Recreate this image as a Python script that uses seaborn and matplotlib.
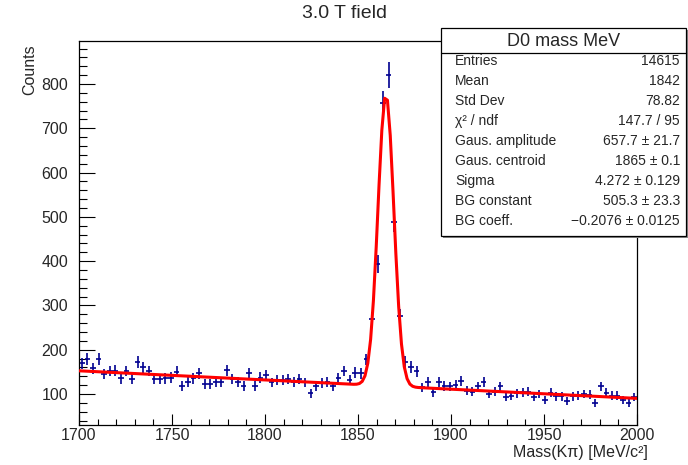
import numpy as np
import pandas as pd
import seaborn as sns
import matplotlib.pyplot as plt
from matplotlib.patches import Rectangle
from matplotlib.ticker import MultipleLocator

# Histograma: 100 bins de 3 MeV entre 1700 e 2000
X_MIN, X_MAX, N_BINS = 1700, 2000, 100

counts = [
    169, 179, 158, 179, 145, 152, 153, 135, 152, 134,
    172, 160, 152, 134, 134, 135, 137, 150, 118, 128,
    135, 147, 122, 122, 127, 126, 154, 134, 128, 118,
    147, 118, 137, 143, 126, 132, 132, 134, 128, 133,
    126, 102, 117, 124, 128, 117, 135, 152, 132, 148,
    147, 178, 269, 394, 756, 820, 489, 276, 172, 161,
    151, 115, 128, 104, 128, 118, 117, 120, 130, 107,
    105, 117, 127, 100, 105, 117, 93, 96, 102, 104,
    105, 93, 100, 87, 103, 95, 95, 84, 95, 96,
    100, 98, 79, 117, 103, 96, 96, 87, 79, 93,
]

GAUS_AMP = 657.7
GAUS_MEAN = 1865.0
GAUS_SIGMA = 4.272
BG_CONST = 505.3
BG_COEFF = -0.2076

stat_title = "D0 mass MeV"
stat_labels = ["Entries", "Mean", "Std Dev", "χ² / ndf", "Gaus. amplitude",
               "Gaus. centroid", "Sigma", "BG constant", "BG coeff."]
stat_values = ["14615", "1842", "78.82", "147.7 / 95", "657.7 ± 21.7",
               "1865 ± 0.1", "4.272 ± 0.129", "505.3 ± 23.3",
               "\u22120.2076 ± 0.0125"]

W, H = 688, 465

def fx(px):
    return px / W

def fy(py):
    return 1 - py / H

sns.set_style("ticks")
plt.rcParams["font.family"] = ["Liberation Sans", "DejaVu Sans"]

fig = plt.figure(figsize=(W / 100, H / 100), dpi=100)
ax = fig.add_axes([fx(79), fy(425), fx(637) - fx(79), fy(41) - fy(425)])

bw = (X_MAX - X_MIN) / N_BINS
centers = X_MIN + bw * (np.arange(N_BINS) + 0.5)
hist = pd.DataFrame({"mass": centers, "counts": counts})
hist["err"] = np.sqrt(hist["counts"])

ax.errorbar(hist["mass"], hist["counts"], xerr=bw / 2, yerr=hist["err"],
            fmt="none", ecolor="#000090", elinewidth=1.2, capsize=0, zorder=2)

xf = np.linspace(X_MIN, X_MAX, 200)
fit = pd.DataFrame({
    "mass": xf,
    "y": GAUS_AMP * np.exp(-0.5 * ((xf - GAUS_MEAN) / GAUS_SIGMA) ** 2)
         + BG_CONST + BG_COEFF * xf,
})
sns.lineplot(data=fit, x="mass", y="y", ax=ax, color="red", lw=2.2,
             zorder=3, legend=False)

ax.set_xlim(X_MIN, X_MAX)
ax.set_ylim(30, 897)
ax.xaxis.set_major_locator(MultipleLocator(50))
ax.xaxis.set_minor_locator(MultipleLocator(10))
ax.yaxis.set_major_locator(MultipleLocator(100))
ax.yaxis.set_minor_locator(MultipleLocator(20))
ax.tick_params(which="both", direction="in", top=False, right=False,
               width=0.8, labelsize=11.5, color="black")
ax.tick_params(axis="x", which="major", length=8, pad=2)
ax.tick_params(axis="x", which="minor", length=4)
ax.tick_params(axis="y", which="major", length=11.5, pad=8)
ax.tick_params(axis="y", which="minor", length=5.8)
for s in ax.spines.values():
    s.set_visible(True)
    s.set_linewidth(0.9)
    s.set_color("black")

ax.set_xlabel("Mass(Kπ) [MeV/c²]", fontsize=11.5, loc="right", va="center")
ax.set_ylabel("Counts", fontsize=11.5, loc="top")
ax.xaxis.set_label_coords((648 - 79) / 558, -27 / 384)
ax.yaxis.set_label_coords(-42 / 558, 1 - 3 / 384)

fig.text(0.5, fy(13), "3.0 T field", ha="center", va="center", fontsize=14)

# Caixa de estatística (estilo ROOT)
bx0, bx1, by0, by1 = 441, 686, 28, 236
fig.add_artist(Rectangle((fx(bx0 + 2), fy(by1 + 2)), fx(bx1) - fx(bx0),
                         fy(by0) - fy(by1), transform=fig.transFigure,
                         facecolor="#888888", edgecolor="none", zorder=4))
fig.add_artist(Rectangle((fx(bx0), fy(by1)), fx(bx1) - fx(bx0),
                         fy(by0) - fy(by1), transform=fig.transFigure,
                         facecolor="white", edgecolor="black", lw=0.9, zorder=5))
fig.add_artist(plt.Line2D([fx(bx0), fx(bx1)], [fy(53), fy(53)],
                          transform=fig.transFigure, color="black", lw=0.9,
                          zorder=6))
fig.text(fx(564), fy(41), stat_title, ha="center", va="center",
         fontsize=13, zorder=7)
for i, (lab, val) in enumerate(zip(stat_labels, stat_values)):
    yy = fy(60.7 + 20 * i)
    fig.text(fx(455), yy, lab, ha="left", va="center", fontsize=10, zorder=7)
    fig.text(fx(680), yy, val, ha="right", va="center", fontsize=10, zorder=7)

fig.savefig("out.png", dpi=100)
